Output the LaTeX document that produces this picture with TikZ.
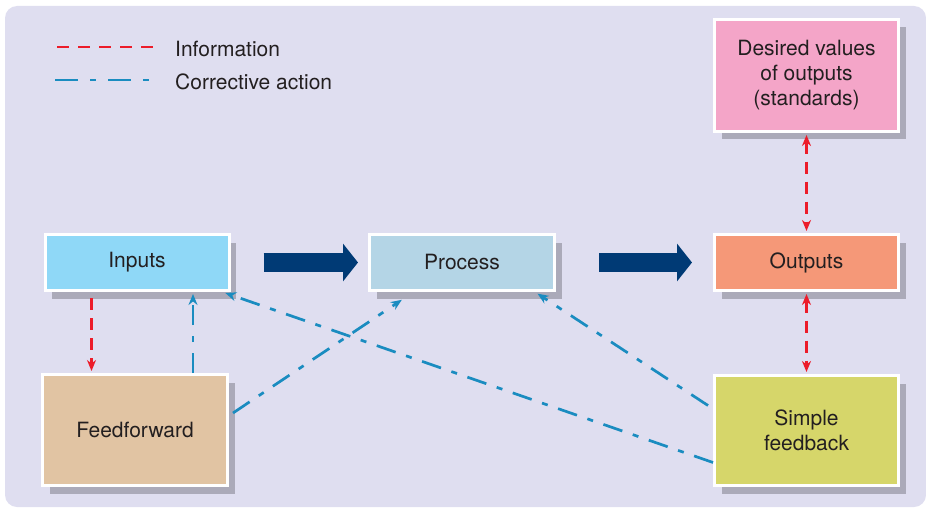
\documentclass[tikz,border=0pt]{standalone}
\usepackage{fontspec}
\setmainfont{TeX Gyre Heros}
\usetikzlibrary{arrows.meta,shadows}
\definecolor{bgcol}{HTML}{DFDEF0}
\definecolor{textcol}{HTML}{231F20}
\definecolor{shadowcol}{HTML}{ABAAB9}
\definecolor{inputscol}{HTML}{8FD8F7}
\definecolor{processcol}{HTML}{B4D5E6}
\definecolor{outputscol}{HTML}{F59878}
\definecolor{desiredcol}{HTML}{F4A5C8}
\definecolor{feedfcol}{HTML}{E1C4A3}
\definecolor{feedbcol}{HTML}{D6D66A}
\definecolor{navy}{HTML}{003A75}
\definecolor{corrblue}{HTML}{1A8CC0}
\definecolor{infored}{HTML}{EC1C2A}
\tikzset{
  box/.style={draw=white, line width=3pt, text=textcol, align=center, inner sep=0pt,
    font=\fontsize{21}{25}\selectfont,
    drop shadow={shadow xshift=7pt, shadow yshift=-8pt, fill=shadowcol, opacity=1}},
  label/.style={anchor=west, inner sep=0pt, text=textcol, font=\fontsize{21}{25}\selectfont},
  info/.style={infored, line width=2.7pt, dash pattern=on 12pt off 8pt},
  corr/.style={corrblue, line width=2.7pt, dash pattern=on 20pt off 11pt on 6pt off 11pt},
  tip/.style={-{Stealth[length=11pt,width=9pt]}},
  bigarrow/.style={navy, line width=19pt, -{Triangle[length=15pt,width=37pt]}}
}
\begin{document}
\begin{tikzpicture}[x=1pt, y=-1pt]
  \useasboundingbox (0,0) rectangle (926,508);
  \fill[bgcol, rounded corners=12pt] (5,6) rectangle (926,507);
  \draw[infored, line width=2.7pt, dash pattern=on 12pt off 9pt] (57,47) -- (153,47);
  \draw[corrblue, line width=2.7pt, dash pattern=on 23pt off 12pt on 6pt off 12pt] (55,80) -- (150,80);
  \node[label] (infolabel) at (175,49) {Information};
  \node[label] (corrlabel) at (175,82) {Corrective action};
  \node[box, fill=inputscol, minimum width=184pt, minimum height=56pt] (inputs) at (137,262.5) {Inputs};
  \node[box, fill=processcol, minimum width=185pt, minimum height=56pt] (process) at (462,262.5) {Process};
  \node[box, fill=outputscol, minimum width=184pt, minimum height=56pt] (outputs) at (806.5,262.5) {Outputs};
  \node[box, fill=desiredcol, minimum width=184pt, minimum height=112pt] (desired) at (806.5,75.5) {Desired values\\of outputs\\(standards)};
  \node[box, fill=feedfcol, minimum width=185pt, minimum height=111pt] (feedf) at (135,430) {Feedforward};
  \node[box, fill=feedbcol, minimum width=184pt, minimum height=110pt] (feedb) at (806.5,430.5) {Simple\\feedback};
  \draw[bigarrow, shorten <=33pt, shorten >=10pt] (inputs.east) -- (process.west);
  \draw[bigarrow, shorten <=43pt, shorten >=21pt] (process.east) -- (outputs.west);
  \draw[info, tip, shorten <=6pt, shorten >=2pt] ([xshift=48pt]inputs.south west) -- ([xshift=48pt]inputs.south west |- feedf.north);
  \draw[corr, tip, shorten >=2pt] ([xshift=152pt]feedf.north west) -- ([xshift=152pt]feedf.north west |- inputs.south);
  \draw[corr, tip, shorten >=5pt] ([xshift=4pt, yshift=17pt]feedf.east) -- ([xshift=38pt, yshift=-5pt]process.south west);
  \draw[corr, tip, shorten >=3pt] ([yshift=-32pt]feedb.west) -- ([xshift=-8pt]inputs.south east);
  \draw[corr, tip, shorten >=3pt] ([xshift=-5pt, yshift=25pt]feedb.west) -- ([xshift=-21pt]process.south east);
  \draw[info, {Stealth[length=11pt,width=9pt]}-{Stealth[length=11pt,width=9pt]}, shorten <=2pt, shorten >=2pt] (desired.south) -- (outputs.north);
  \draw[info, {Stealth[length=11pt,width=9pt]}-{Stealth[length=11pt,width=9pt]}, shorten <=2pt, shorten >=2pt] (outputs.south) -- (feedb.north);
\end{tikzpicture}
\end{document}
